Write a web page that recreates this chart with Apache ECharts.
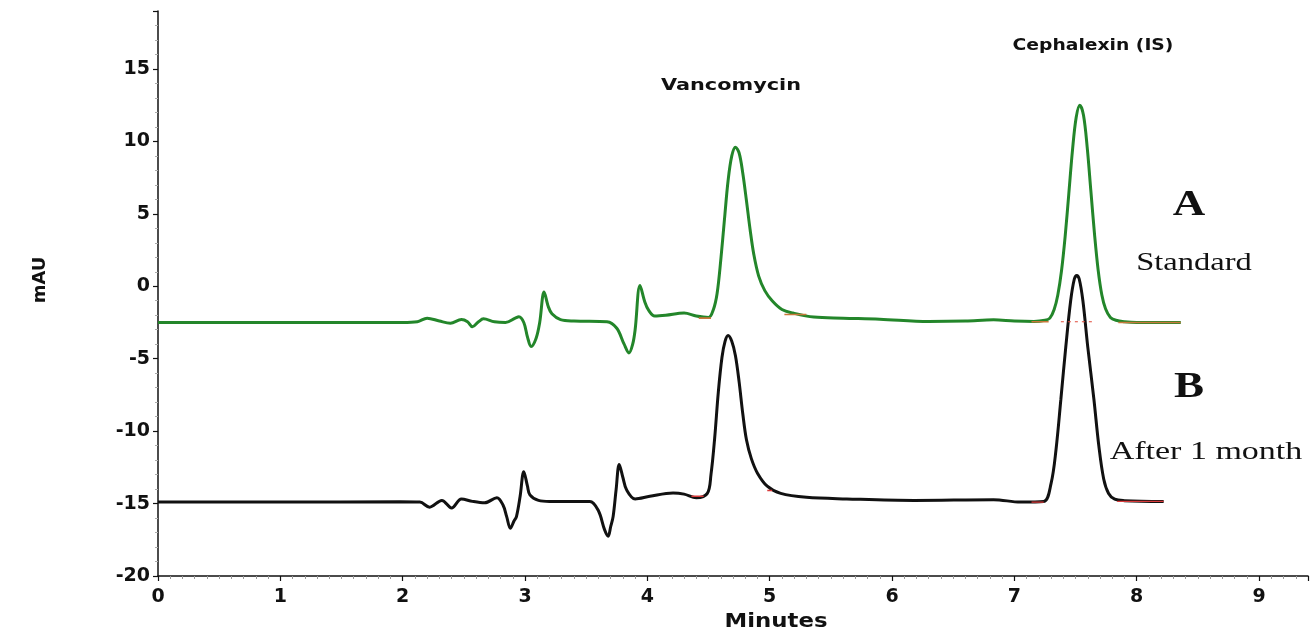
<!DOCTYPE html>
<html>
<head>
<meta charset="utf-8">
<script src="https://cdn.jsdelivr.net/npm/echarts@6/dist/echarts.min.js"></script>
<style>
html,body{margin:0;padding:0;background:#fff;}
#chart{width:1310px;height:633px;}
</style>
</head>
<body>
<div id="chart"></div>
<script>
// ---- Data ----
var xTicks = [0, 1, 2, 3, 4, 5, 6, 7, 8, 9];
var yTicks = [-20, -15, -10, -5, 0, 5, 10, 15];

// Trace A: Standard (green)
var stdTime = [0, 1.0, 2.0, 2.12, 2.2, 2.3, 2.39, 2.48, 2.53, 2.57, 2.62, 2.66, 2.75, 2.84, 2.92, 2.95, 2.99, 3.02, 3.05, 3.09, 3.12, 3.156, 3.19, 3.22, 3.29, 3.4, 3.67, 3.75, 3.81, 3.85, 3.88, 3.9, 3.94, 3.98, 4.01, 4.06, 4.15, 4.30, 4.40, 4.50, 4.54, 4.57, 4.60, 4.63, 4.66, 4.69, 4.72, 4.75, 4.78, 4.81, 4.84, 4.87, 4.91, 4.96, 5.02, 5.10, 5.19, 5.36, 5.6, 5.9, 6.3, 6.6, 6.83, 7.0, 7.16, 7.25, 7.29, 7.325, 7.355, 7.385, 7.415, 7.445, 7.475, 7.505, 7.535, 7.565, 7.595, 7.625, 7.655, 7.685, 7.715, 7.745, 7.785, 7.83, 7.9, 8.0, 8.36];
var stdSignal = [-2.5, -2.5, -2.5, -2.45, -2.2, -2.4, -2.55, -2.3, -2.45, -2.8, -2.45, -2.25, -2.45, -2.5, -2.2, -2.1, -2.5, -3.5, -4.15, -3.6, -2.5, -0.4, -1.4, -1.9, -2.3, -2.4, -2.45, -2.9, -4.0, -4.6, -4.0, -3.0, 0.05, -1.1, -1.65, -2.05, -2.0, -1.85, -2.05, -2.15, -1.6, -0.5, 1.8, 4.6, 7.3, 9.0, 9.6, 9.2, 7.8, 5.9, 3.9, 2.2, 0.7, -0.3, -1.0, -1.6, -1.85, -2.13, -2.2, -2.27, -2.43, -2.4, -2.32, -2.4, -2.43, -2.35, -2.2, -1.6, -0.6, 1.05, 3.45, 6.4, 9.4, 11.65, 12.5, 11.8, 9.6, 6.6, 3.6, 1.1, -0.6, -1.55, -2.15, -2.35, -2.45, -2.5, -2.5];

// Trace B: After 1 month (black)
var agedTime = [0, 1.0, 1.98, 2.14, 2.22, 2.32, 2.40, 2.48, 2.57, 2.67, 2.77, 2.82, 2.85, 2.88, 2.91, 2.93, 2.96, 2.99, 3.02, 3.04, 3.11, 3.2, 3.53, 3.60, 3.65, 3.68, 3.70, 3.72, 3.745, 3.77, 3.80, 3.83, 3.90, 4.02, 4.21, 4.30, 4.40, 4.49, 4.52, 4.55, 4.58, 4.61, 4.635, 4.66, 4.69, 4.72, 4.75, 4.78, 4.81, 4.85, 4.90, 4.98, 5.09, 5.30, 5.63, 6.18, 6.83, 7.05, 7.24, 7.30, 7.34, 7.38, 7.42, 7.46, 7.49, 7.51, 7.53, 7.56, 7.60, 7.65, 7.69, 7.73, 7.77, 7.82, 7.9, 8.22];
var agedSignal = [-14.9, -14.9, -14.88, -14.9, -15.25, -14.78, -15.3, -14.68, -14.85, -14.95, -14.6, -15.1, -15.9, -16.7, -16.2, -15.9, -14.5, -12.8, -13.8, -14.4, -14.78, -14.85, -14.85, -15.5, -16.8, -17.25, -16.6, -15.9, -14.0, -12.3, -13.2, -14.05, -14.68, -14.5, -14.27, -14.35, -14.6, -14.3, -13.0, -10.5, -7.3, -4.9, -3.8, -3.4, -3.8, -4.8, -6.6, -8.8, -10.6, -11.9, -12.9, -13.8, -14.3, -14.57, -14.68, -14.78, -14.73, -14.9, -14.85, -13.6, -11.3, -7.8, -4.2, -1.0, 0.5, 0.75, 0.5, -1.0, -4.2, -7.8, -11.0, -13.3, -14.3, -14.7, -14.8, -14.85];

// Integration baseline segments drawn by the data system: [start, end, value]
var stdBaseSegs = [[4.42, 4.52, -2.2], [5.12, 5.30, -1.95], [7.14, 7.28, -2.45], [7.85, 8.36, -2.5]];
var stdBaseDashed = [[7.38, 7.66, -2.45]];
var agedBaseSegs = [[4.36, 4.46, -14.5], [4.98, 5.02, -14.1], [7.14, 7.24, -14.9], [7.84, 8.22, -14.85]];

function pairs(t, v) { return t.map(function (x, i) { return [x, v[i]]; }); }
function segs(list) {
  var out = [];
  list.forEach(function (s, i) {
    if (i > 0) out.push([s[0], '-']);
    out.push([s[0], s[2]]);
    out.push([s[1], s[2]]);
  });
  return out;
}

var chart = echarts.init(document.getElementById('chart'), null, {renderer: 'canvas'});
var labelFont = {fontFamily: 'DejaVu Sans', fontWeight: 'bold', fontSize: 19, color: '#111'};

function txt(x, y, text, font, sx, color) {
  return {type: 'text', x: x, y: y, scaleX: sx || 1, z: 100,
    style: {text: text, font: font, fill: color || '#111', align: 'center', verticalAlign: 'middle'}};
}

chart.setOption({
  animation: false,
  backgroundColor: '#fff',
  grid: {left: 158, right: 2, top: 11, bottom: 57, containLabel: false},
  xAxis: {
    type: 'value', min: 0, max: 9.4, interval: 1,
    axisLine: {onZero: false, lineStyle: {color: '#111', width: 1.5}},
    axisTick: {show: true, inside: false, length: 5, lineStyle: {color: '#111', width: 1.2}},
    minorTick: {show: true, splitNumber: 10, length: 3, lineStyle: {color: '#999', width: 1}},
    splitLine: {show: false},
    axisLabel: Object.assign({margin: 12, showMaxLabel: false,
      formatter: function (v) { return xTicks.indexOf(v) >= 0 ? String(v) : ''; }}, labelFont)
  },
  yAxis: {
    type: 'value', min: -20, max: 19, interval: 5,
    axisLine: {show: true, onZero: false, lineStyle: {color: '#111', width: 1.5}},
    axisTick: {show: true, inside: false, length: 5, lineStyle: {color: '#111', width: 1.2}},
    minorTick: {show: true, splitNumber: 5, length: 3, lineStyle: {color: '#aaa', width: 1}},
    splitLine: {show: false},
    axisLabel: Object.assign({margin: 8, showMaxLabel: false,
      formatter: function (v) { return yTicks.indexOf(v) >= 0 ? String(v) : ''; }}, labelFont)
  },
  series: [
    {
      name: 'Standard', type: 'line', data: pairs(stdTime, stdSignal),
      smooth: 0.35, symbol: 'none',
      lineStyle: {color: '#23862a', width: 3}, z: 3
    },
    {
      name: 'After 1 month', type: 'line', data: pairs(agedTime, agedSignal),
      smooth: 0.35, symbol: 'none',
      lineStyle: {color: '#111111', width: 3}, z: 3
    },
    {
      name: 'Standard baseline', type: 'line', data: segs(stdBaseSegs), symbol: 'none',
      connectNulls: false, lineStyle: {color: '#c8783a', width: 1.6}, z: 4
    },
    {
      name: 'Standard baseline dashed', type: 'line', data: segs(stdBaseDashed), symbol: 'none',
      lineStyle: {color: '#e04a3a', width: 1.2, type: [3, 4]}, z: 4
    },
    {
      name: 'Aged baseline', type: 'line', data: segs(agedBaseSegs), symbol: 'none',
      connectNulls: false, lineStyle: {color: '#d83a3a', width: 1.4}, z: 4
    }
  ],
  graphic: [
    {type: 'text', x: 40, y: 280, rotation: Math.PI / 2, z: 100,
      style: {text: 'mAU', font: 'bold 18px "DejaVu Sans"', fill: '#111', align: 'center', verticalAlign: 'middle'}},
    txt(776, 622, 'Minutes', 'bold 19px "DejaVu Sans"', 1.2),
    txt(731, 86, 'Vancomycin', 'bold 16px "DejaVu Sans"', 1.3),
    txt(1093, 46, 'Cephalexin (IS)', 'bold 16px "DejaVu Sans"', 1.17),
    txt(1189, 206, 'A', 'bold 36px "Liberation Serif"', 1.25),
    txt(1194, 263, 'Standard', '25px "Liberation Serif"', 1.3),
    txt(1189, 388, 'B', 'bold 36px "Liberation Serif"', 1.25),
    txt(1206, 452, 'After 1 month', '25px "Liberation Serif"', 1.36)
  ]
});
</script>
</body>
</html>
